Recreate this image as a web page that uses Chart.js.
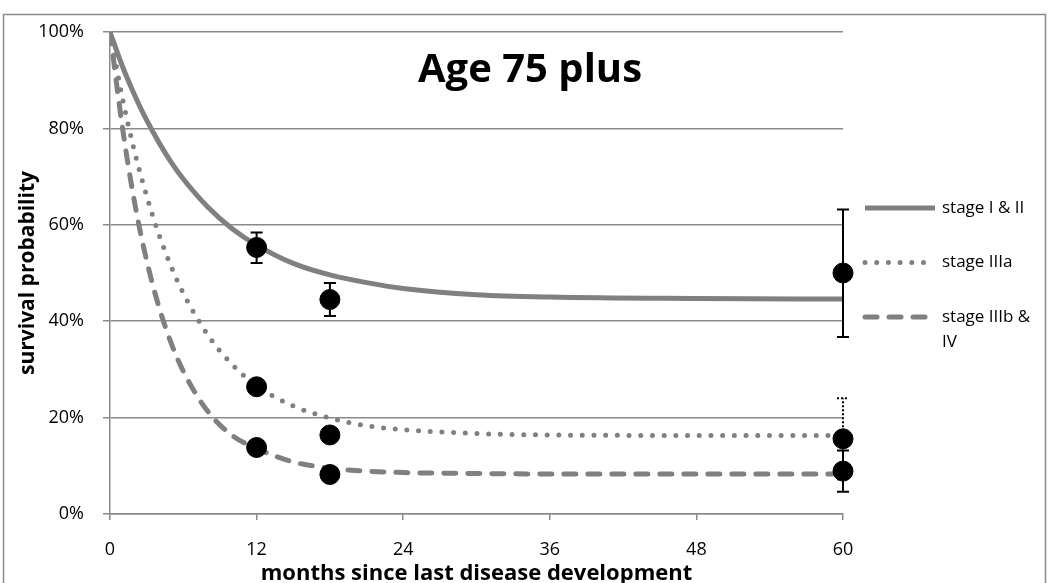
<!DOCTYPE html>
<html>
<head>
<meta charset="utf-8">
<title>Age 75 plus</title>
<script src="https://cdn.jsdelivr.net/npm/chart.js@4.4.1/dist/chart.umd.min.js"></script>
<style>
  html, body { margin: 0; padding: 0; background: #fff; }
  #wrap { width: 1048px; height: 583px; }
</style>
</head>
<body>
<div id="wrap"><canvas id="survivalChart" width="1048" height="583"></canvas></div>
<script>
// Curvas ajustadas (meses y % de supervivencia)
const curveMonths = [0, 1, 2, 3, 4, 5, 6, 8, 10, 12, 15, 18, 21, 24, 30, 36, 48, 60];
const curveStageI = [100, 93, 87, 81.7, 77.1, 73, 69.5, 63.7, 59.2, 55.8, 52, 49.6, 48, 46.8, 45.5, 45, 44.7, 44.6];
const curveStageIIIa = [100, 86.5, 75.3, 66, 58, 51.4, 45.8, 37.2, 31, 26.6, 22.4, 19.9, 18.3, 17.5, 16.7, 16.4, 16.3, 16.3];
const curveStageIIIb = [100, 80.5, 64.8, 52.6, 43, 35.5, 29.6, 21.3, 16.3, 13.6, 10.8, 9.5, 8.9, 8.6, 8.4, 8.3, 8.3, 8.3];

// Observaciones con barras de error
const obsMonths = [12, 18, 60];
const obsStageI = [55.3, 44.5, 50.0];
const obsStageILow = [52.1, 41.1, 36.7];
const obsStageIHigh = [58.4, 47.9, 63.2];
const obsStageIIIa = [26.4, 16.4, 15.6];
const obsStageIIIaLow = [null, null, 7.2];
const obsStageIIIaHigh = [null, null, 24.0];
const obsStageIIIb = [13.8, 8.2, 8.9];
const obsStageIIIbLow = [null, null, 4.6];
const obsStageIIIbHigh = [null, null, 13.2];

const seriesNames = ['stage I & II', 'stage IIIa', 'stage IIIb & IV'];
const xTicks = [0, 12, 24, 36, 48, 60];
const yTicks = [0, 20, 40, 60, 80, 100];
const chartTitle = 'Age 75 plus';
const xTitle = 'months since last disease development';
const yTitle = 'survival probability';

const FONT = "'Open Sans', 'Noto Sans', sans-serif";
const GREY = '#808080';
const GRID = '#8a8a8a';

const toPoints = (xs, ys) => xs.map((x, i) => ({ x: x, y: ys[i] }));

// Marco exterior y fondo
const framePlugin = {
    id: 'frame',
    beforeDraw(chart) {
        const ctx = chart.ctx;
        ctx.save();
        ctx.fillStyle = '#fff';
        ctx.fillRect(0, 0, chart.width, chart.height);
        ctx.strokeStyle = GRID;
        ctx.lineWidth = 1.5;
        ctx.strokeRect(3.5, 14.5, chart.width - 6, chart.height + 10);
        ctx.restore();
    }
};

// Barras de error, se pintan justo antes de los puntos
let errorsDrawn = false;
const errorBarPlugin = {
    id: 'errorBars',
    beforeDraw() { errorsDrawn = false; },
    beforeDatasetDraw(chart, args) {
        const ds = chart.data.datasets[args.index];
        if (ds.type !== 'scatter' || errorsDrawn) return;
        errorsDrawn = true;
        const ctx = chart.ctx;
        const xs = chart.scales.x, ys = chart.scales.y;
        chart.data.datasets.forEach(set => {
            if (!set.errLow) return;
            ctx.save();
            ctx.strokeStyle = '#000';
            ctx.lineWidth = 2;
            ctx.setLineDash(set.errDash || []);
            obsMonths.forEach((m, i) => {
                if (set.errLow[i] == null) return;
                const x = xs.getPixelForValue(m);
                const y0 = ys.getPixelForValue(set.errLow[i]);
                const y1 = ys.getPixelForValue(set.errHigh[i]);
                ctx.beginPath();
                ctx.moveTo(x, y0); ctx.lineTo(x, y1);
                ctx.moveTo(x - 6, y0); ctx.lineTo(x + 6, y0);
                ctx.moveTo(x - 6, y1); ctx.lineTo(x + 6, y1);
                ctx.stroke();
            });
            ctx.restore();
        });
    }
};

// Titulo dentro del area y leyenda a la derecha
const labelsPlugin = {
    id: 'labels',
    afterDraw(chart) {
        const ctx = chart.ctx;
        const area = chart.chartArea;
        ctx.save();
        ctx.fillStyle = '#000';
        ctx.font = 'bold 40px ' + FONT;
        ctx.textAlign = 'center';
        ctx.textBaseline = 'alphabetic';
        ctx.fillText(chartTitle, 530, 82);

        const x0 = area.right + 20, x1 = x0 + 72, tx = x1 + 7;
        ctx.font = '17px ' + FONT;
        ctx.textAlign = 'left';
        ctx.textBaseline = 'middle';
        const curves = chart.data.datasets.filter(d => d.type === 'line');
        curves.forEach((d, i) => {
            const y = 208 + i * 54.5;
            ctx.save();
            ctx.strokeStyle = d.borderColor;
            ctx.lineWidth = d.borderWidth;
            ctx.lineCap = d.borderCapStyle;
            ctx.setLineDash(d.borderDash);
            ctx.beginPath();
            ctx.moveTo(x0 + 2, y);
            ctx.lineTo(d.borderDash.length ? x1 - 8 : x1, y);
            ctx.stroke();
            ctx.restore();

            // ajuste de linea simple
            const words = d.label.split(' ');
            let line = '', lines = [];
            words.forEach(w => {
                const test = line ? line + ' ' + w : w;
                if (ctx.measureText(test).width > chart.width - tx - 8 && line) {
                    lines.push(line);
                    line = w;
                } else {
                    line = test;
                }
            });
            lines.push(line);
            lines.forEach((l, k) => ctx.fillText(l, tx, y + k * 25));
        });
        ctx.restore();
    }
};

const ctx = document.getElementById('survivalChart');

new Chart(ctx, {
    data: {
        datasets: [
            {
                type: 'scatter', label: 'obs I', data: toPoints(obsMonths, obsStageI),
                errLow: obsStageILow, errHigh: obsStageIHigh, errDash: [],
                pointRadius: 10, pointBackgroundColor: '#000', pointBorderColor: '#000', pointBorderWidth: 1,
                clip: false, order: 0
            },
            {
                type: 'scatter', label: 'obs IIIa', data: toPoints(obsMonths, obsStageIIIa),
                errLow: obsStageIIIaLow, errHigh: obsStageIIIaHigh, errDash: [2, 2],
                pointRadius: 10, pointBackgroundColor: '#000', pointBorderColor: '#000', pointBorderWidth: 1,
                clip: false, order: 0
            },
            {
                type: 'scatter', label: 'obs IIIb', data: toPoints(obsMonths, obsStageIIIb),
                errLow: obsStageIIIbLow, errHigh: obsStageIIIbHigh, errDash: [],
                pointRadius: 10, pointBackgroundColor: '#000', pointBorderColor: '#000', pointBorderWidth: 1,
                clip: false, order: 0
            },
            {
                type: 'line', label: seriesNames[0], data: toPoints(curveMonths, curveStageI),
                borderColor: GREY, borderWidth: 5, borderDash: [], borderCapStyle: 'butt',
                pointRadius: 0, cubicInterpolationMode: 'monotone', order: 1
            },
            {
                type: 'line', label: seriesNames[1], data: toPoints(curveMonths, curveStageIIIa),
                borderColor: GREY, borderWidth: 5, borderDash: [0, 11.7], borderCapStyle: 'round',
                pointRadius: 0, cubicInterpolationMode: 'monotone', order: 1
            },
            {
                type: 'line', label: seriesNames[2], data: toPoints(curveMonths, curveStageIIIb),
                borderColor: GREY, borderWidth: 5, borderDash: [12, 12], borderCapStyle: 'round',
                pointRadius: 0, cubicInterpolationMode: 'monotone', order: 1
            }
        ]
    },
    options: {
        responsive: false,
        animation: false,
        devicePixelRatio: 1,
        layout: { padding: { top: 32, right: 205, bottom: 0, left: 0 } },
        plugins: {
            legend: { display: false },
            title: { display: false },
            tooltip: { enabled: false }
        },
        scales: {
            x: {
                type: 'linear', min: 0, max: 60,
                afterFit: scale => { scale.height = 69; },
                afterBuildTicks: scale => { scale.ticks = xTicks.map(v => ({ value: v })); },
                ticks: { color: '#000', font: { family: FONT, size: 18 }, padding: 19, maxRotation: 0 },
                grid: { drawOnChartArea: false, color: GRID, lineWidth: 1.5, tickLength: 6 },
                border: { color: GRID, width: 1.5 },
                title: {
                    display: true, text: xTitle, color: '#000',
                    font: { family: FONT, size: 22, weight: 'bold', lineHeight: 0.8 },
                    padding: { top: 0, bottom: 0 }
                }
            },
            y: {
                min: 0, max: 100,
                afterFit: scale => { scale.width = 110; },
                afterBuildTicks: scale => { scale.ticks = yTicks.map(v => ({ value: v })); },
                ticks: { color: '#000', font: { family: FONT, size: 18 }, padding: 19, callback: v => v + '%' },
                grid: { color: GRID, lineWidth: 1.5, tickLength: 7 },
                border: { color: GRID, width: 1.5 },
                title: {
                    display: true, text: yTitle, color: '#000',
                    font: { family: FONT, size: 21, weight: 'bold', lineHeight: 1 },
                    padding: { top: 18, bottom: 0 }
                }
            }
        }
    },
    plugins: [framePlugin, errorBarPlugin, labelsPlugin]
});
</script>
</body>
</html>
